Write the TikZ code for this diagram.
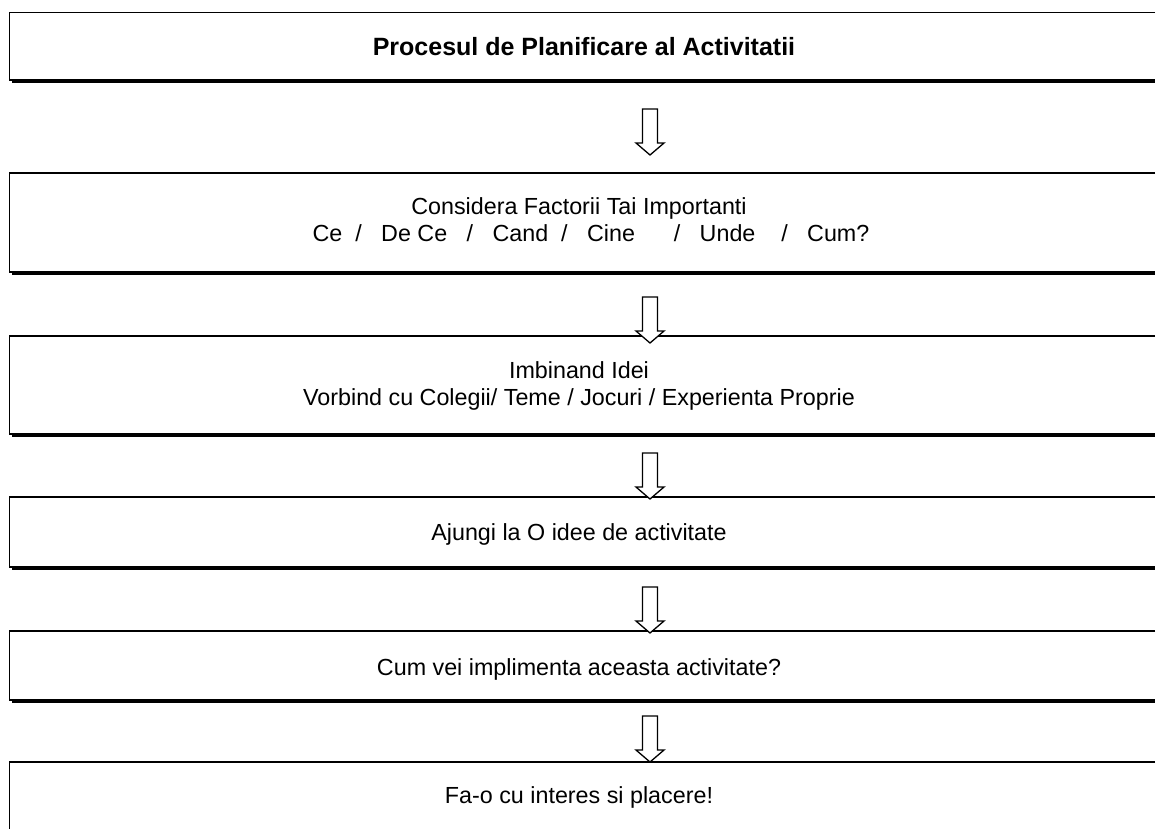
\documentclass[tikz,border=0pt]{standalone}
\usepackage{fontspec}
\setmainfont{Liberation Sans}

\tikzset{
    box/.style={draw, line width=1.6pt},
    label/.style={font=\fontsize{23.3}{27}\selectfont, align=center, inner sep=0pt, anchor=base},
    downarrow/.pic={
        \draw[line width=1.3pt, fill=white] (-7.5,0) -- (7.5,0) -- (7.5,34) -- (14,34)
            -- (0,46) -- (-14,34) -- (-7.5,34) -- cycle;
    }
}

\begin{document}
\begin{tikzpicture}[x=1pt, y=-1pt]
        \useasboundingbox (0,0) rectangle (1156,828);
        % Boxes with shadow (open at the right edge)
        \foreach \t/\b in {12.5/80, 173/272, 336/434, 497/567, 631/700, 762/850} {
            \fill (11.5,\b) rectangle (1155,\b+3.2);
            \draw[box] (1155,\t) -- (9.5,\t) -- (9.5,\b) -- (1155,\b);
        }
        % Texts
        \node[label, font=\fontsize{25}{29}\selectfont\bfseries] (title) at (584,55) {Procesul de Planificare al Activitatii};
        \node[label] (factori) at (579,241.5) {Considera Factorii Tai Importanti\\
            \hspace*{24pt}Ce\ \ /\ \ \ De Ce\ \ \ /\ \ \ Cand\ \ /\ \ \ Cine\ \ \ \ \ \ /\ \ \ Unde\ \ \ \ /\ \ \ Cum?};
        \node[label] (idei) at (579,405.5) {Imbinand Idei\\Vorbind cu Colegii/ Teme / Jocuri / Experienta Proprie};
        \node[label] (idee) at (579,540.5) {Ajungi la O idee de activitate};
        \node[label] (implementare) at (579,675.5) {Cum vei implimenta aceasta activitate?};
        \node[label] (placere) at (579,803.5) {Fa-o cu interes si placere!};
        % Block arrows between the steps
        \foreach \y in {109, 297, 453, 587, 716}
            \pic at (650,\y) {downarrow};
    \end{tikzpicture}
\end{document}
